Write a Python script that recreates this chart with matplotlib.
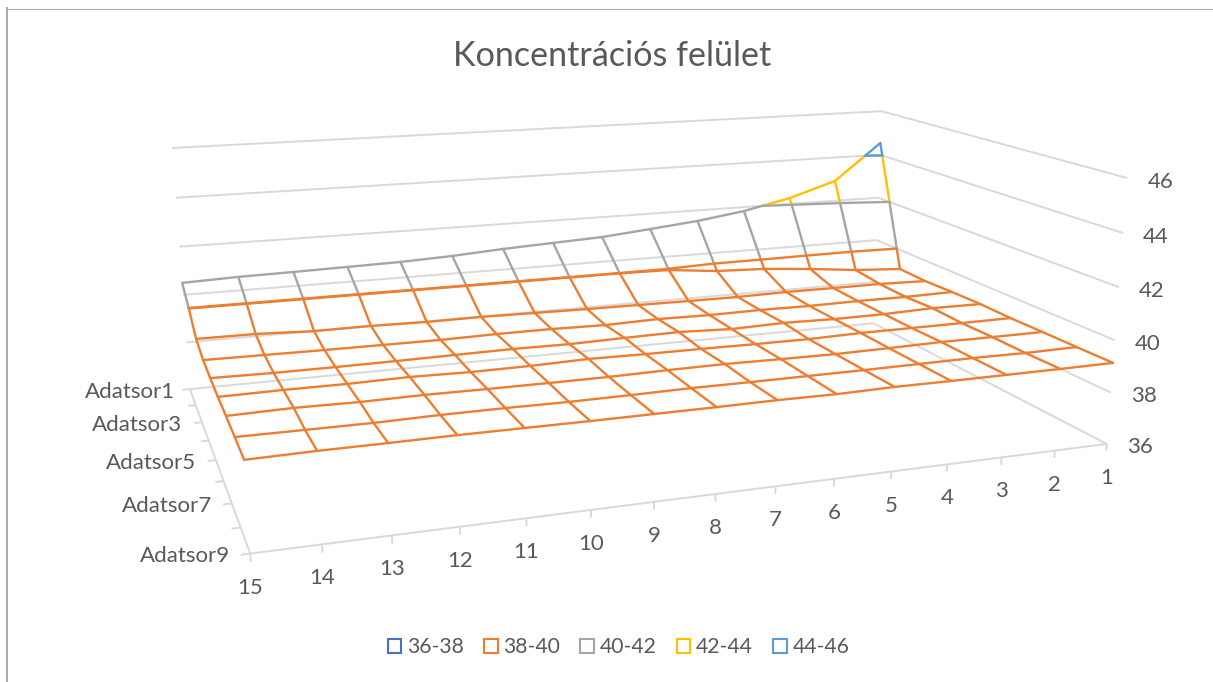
import numpy as np
import matplotlib
matplotlib.use('Agg')
import matplotlib.pyplot as plt
from matplotlib.patches import Patch
from matplotlib.lines import Line2D
from mpl_toolkits.mplot3d import proj3d
from mpl_toolkits.mplot3d.art3d import Line3DCollection

# ---- data -------------------------------------------------------------
title = 'Koncentrációs felület'
categories = list(range(1, 16))
series_labels = ['Adatsor1', 'Adatsor2', 'Adatsor3', 'Adatsor4', 'Adatsor5',
                 'Adatsor6', 'Adatsor7', 'Adatsor8', 'Adatsor9']
z_ticks = [36, 38, 40, 42, 44, 46]
band_labels = ['36-38', '38-40', '40-42', '42-44', '44-46']
band_colors = ['#4472C4', '#ED7D31', '#A5A5A5', '#FFC000', '#5B9BD5']

# values of each series, listed for category 15 down to category 1
adatsor1 = [40.50, 40.57, 40.60, 40.64, 40.68, 40.77, 40.91, 41.01, 41.11, 41.31, 41.52, 41.82, 42.27, 42.92, 44.54]
adatsor2 = [39.99, 39.99, 39.99, 39.99, 39.99, 39.99, 39.99, 39.99, 39.99, 39.96, 39.74, 39.66, 39.48, 39.26, 39.13]
adatsor3 = [39.35, 39.34, 39.25, 39.26, 39.22, 39.23, 39.20, 39.17, 39.15, 39.13, 39.12, 39.15, 39.14, 39.14, 39.09]
adatsor4 = [39.14, 39.12, 39.10, 39.09, 39.08, 39.11, 39.11, 39.07, 39.12, 39.09, 39.11, 39.09, 39.11, 39.10, 39.13]
adatsor5 = [39.10, 39.07, 39.07, 39.08, 39.10, 39.12, 39.10, 39.14, 39.17, 39.09, 39.14, 39.10, 39.11, 39.17, 39.15]
adatsor6 = [39.08, 39.10, 39.09, 39.12, 39.08, 39.09, 39.14, 39.11, 39.10, 39.08, 39.07, 39.11, 39.11, 39.11, 39.12]
adatsor7 = [39.10, 39.14, 39.11, 39.13, 39.11, 39.10, 39.10, 39.13, 39.14, 39.11, 39.09, 39.11, 39.14, 39.13, 39.13]
adatsor8 = [39.10, 39.09, 39.08, 39.11, 39.11, 39.09, 39.10, 39.12, 39.11, 39.11, 39.11, 39.12, 39.13, 39.11, 39.13]
adatsor9 = [39.10, 39.13, 39.13, 39.14, 39.13, 39.12, 39.12, 39.12, 39.13, 39.11, 39.14, 39.13, 39.13, 39.13, 39.14]

Z = np.array([adatsor1, adatsor2, adatsor3, adatsor4, adatsor5,
              adatsor6, adatsor7, adatsor8, adatsor9])[:, ::-1]   # index [series, category]
n_rows, n_cols = Z.shape
X_MIN, X_MAX, Y_MIN, Y_MAX = 1, n_cols, 1, n_rows
Z_MIN, Z_MAX = z_ticks[0], z_ticks[-1]

# ---- camera: 3D box positions on the canvas (x, y, z -> pixel u, v) -----
W, H = 1213, 682
calib = [(15,1,36,190,390),(15,1,38,186,342),(15,1,40,183,294),(15,1,42,180,247),(15,1,44,176,198),(15,1,46,172,148),
         (1,1,36,873,323),(1,1,38,875,282),(1,1,40,877,240),(1,1,42,878,198),(1,1,44,880,155),(1,1,46,882,111),
         (1,9,36,1107,443),(1,9,38,1112,393),(1,9,40,1115,340),(1,9,42,1118,287),(1,9,44,1123,233),(1,9,46,1127,178),
         (15,9,36,250,553),(2,9,36,1054,450.6),(3,9,36,1001,457.7),(4,9,36,947,465),(5,9,36,892,472),(14,9,36,322,545),
         (15,5,36,216,460),(15,3,36,202,422),(15,7,36,232,503)]
A = []
for x_, y_, z_, u, v in calib:
    v = H - v
    A.append([x_, y_, z_, 1, 0, 0, 0, 0, -u*x_, -u*y_, -u*z_, -u])
    A.append([0, 0, 0, 0, x_, y_, z_, 1, -v*x_, -v*y_, -v*z_, -v])
P = np.linalg.svd(np.array(A, float))[2][-1].reshape(3, 4)
P = P / P[2, 3]
M = np.vstack([P[0], P[1], [0.0, 0.0, 1e-2, 0.0], P[2]])

plt.rcParams['font.family'] = ['Lato', 'DejaVu Sans']
TEXT = '#595959'
GRID = '#D9D9D9'

fig = plt.figure(figsize=(W/100, H/100), dpi=100, facecolor='white')
ax = fig.add_axes([0, 0, 1, 1], projection='3d', computed_zorder=False)
ax.set_xticks([])
ax.set_yticks([])
ax.set_zticks([])
ax.set_axis_off()
ax.apply_aspect = lambda position=None: None
ax.get_proj = lambda: M
ax.viewLim.intervalx = (0, W)
ax.viewLim.intervaly = (0, H)

# ---- walls, floor axes and ticks ---------------------------------------
grid_segs = []
for z in z_ticks:
    grid_segs.append([(X_MAX, Y_MIN, z), (X_MIN, Y_MIN, z)])
    grid_segs.append([(X_MIN, Y_MIN, z), (X_MIN, Y_MAX, z)])
grid_segs.append([(X_MAX, Y_MIN, Z_MIN), (X_MAX, Y_MAX, Z_MIN)])
grid_segs.append([(X_MAX, Y_MAX, Z_MIN), (X_MIN, Y_MAX, Z_MIN)])
for x in categories:
    grid_segs.append([(x, Y_MAX, Z_MIN), (x, Y_MAX, Z_MIN - 0.28)])
for y in range(Y_MIN, Y_MAX + 1):
    grid_segs.append([(X_MAX, y, Z_MIN), (X_MAX + 0.13, y, Z_MIN)])
ax.add_collection3d(Line3DCollection(grid_segs, colors=GRID, linewidths=1.4, zorder=1), autolim=False)

# ---- surface wireframe, split by value band ----------------------------
levels = np.array(z_ticks, float)
band_segs = {i: [] for i in range(len(band_colors))}

def split_edge(p, q):
    (x0, y0, z0), (x1, y1, z1) = p, q
    ts = [0.0]
    for lv in levels:
        if min(z0, z1) < lv < max(z0, z1):
            ts.append((lv - z0) / (z1 - z0))
    ts.append(1.0)
    ts = sorted(ts)
    for a, b in zip(ts[:-1], ts[1:]):
        pa = (x0 + a*(x1-x0), y0 + a*(y1-y0), z0 + a*(z1-z0))
        pb = (x0 + b*(x1-x0), y0 + b*(y1-y0), z0 + b*(z1-z0))
        band = int(np.clip(np.searchsorted(levels, 0.5*(pa[2]+pb[2])) - 1, 0, len(band_colors)-1))
        band_segs[band].append([pa, pb])

for r in range(n_rows):
    for c in range(n_cols):
        p = (categories[c], r + 1, Z[r, c])
        if c + 1 < n_cols:
            split_edge(p, (categories[c+1], r + 1, Z[r, c+1]))
        if r + 1 < n_rows:
            split_edge(p, (categories[c], r + 2, Z[r+1, c]))

# contour outline of each band inside the grid cells
contour_band = {40.0: 1, 42.0: 2, 44.0: 4}
contour_segs = {i: [] for i in range(len(band_colors))}
for lv, band in contour_band.items():
    for r in range(n_rows - 1):
        for c in range(n_cols - 1):
            corners = [(c, r), (c+1, r), (c+1, r+1), (c, r+1)]
            hits = []
            for k in range(4):
                c0, r0 = corners[k]
                c1, r1 = corners[(k+1) % 4]
                z0, z1 = Z[r0, c0], Z[r1, c1]
                if (z0 - lv) * (z1 - lv) < 0:
                    t = (lv - z0) / (z1 - z0)
                    hits.append((categories[c0] + t*(categories[c1]-categories[c0]),
                                 r0 + 1 + t*(r1-r0), lv))
            for k in range(0, len(hits) - 1, 2):
                contour_segs[band].append([hits[k], hits[k+1]])

for i, col in enumerate(band_colors):
    segs = band_segs[i]
    if segs:
        ax.add_collection3d(Line3DCollection(segs, colors=col, linewidths=1.7, capstyle='round', zorder=3 + i), autolim=False)
for i, col in enumerate(band_colors):
    segs = contour_segs[i]
    if segs:
        ax.add_collection3d(Line3DCollection(segs, colors=col, linewidths=1.7, capstyle='round', zorder=9), autolim=False)

# ---- tick labels: axis point through the camera, then a pixel shift ------
FS = 16
def label3d(x, y, z, s, dx, dy, ha):
    u, v, _ = proj3d.proj_transform(x, y, z, M)
    fig.text((u + dx)/W, (v - dy)/H, s, ha=ha, va='center', color=TEXT, fontsize=FS)

for x in categories:
    label3d(x, Y_MAX, Z_MIN, str(x), 0, 34, 'center')
for y in range(1, n_rows + 1, 2):
    label3d(X_MAX, y, Z_MIN, series_labels[y-1], -15 if y == 1 else -20, 2.5, 'right')
for z in z_ticks:
    label3d(X_MIN, Y_MAX, z, str(z), 33, 3.5, 'center')

# ---- title, legend, chart border ---------------------------------------
fig.text(612/W, 1 - 55.5/H, title, ha='center', va='center', color=TEXT, fontsize=24.6)
handles = [Patch(facecolor='white', edgecolor=c, linewidth=1.5, label=l) for c, l in zip(band_colors, band_labels)]
fig.legend(handles=handles, loc='center', bbox_to_anchor=(618.5/W, 1 - 647/H), ncol=5, frameon=False,
           fontsize=15.2, labelcolor=TEXT, handlelength=0.64, handleheight=0.64,
           handletextpad=0.28, columnspacing=0.95, borderpad=0, borderaxespad=0)
fig.add_artist(Line2D([7/W, 7/W], [0, 1 - 8/H], color='#ABABAB', lw=1.4))
fig.add_artist(Line2D([6/W, 1], [1 - 8.5/H, 1 - 8.5/H], color='#ABABAB', lw=0.8))

fig.savefig('out.png', dpi=100)
